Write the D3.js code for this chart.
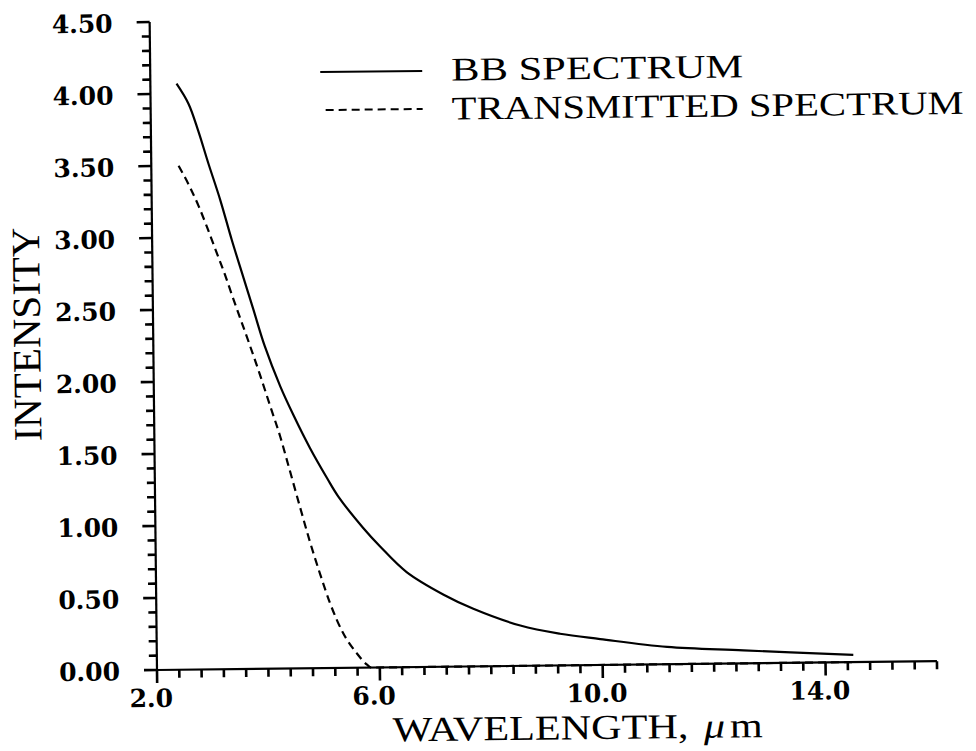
<!DOCTYPE html>
<html>
<head>
<meta charset="utf-8">
<script src="https://cdn.jsdelivr.net/npm/d3@7/dist/d3.min.js"></script>
<style>
  html, body { margin: 0; padding: 0; background: #fff; }
  svg { display: block; }
</style>
</head>
<body>
<svg id="chart" width="976" height="751"></svg>
<script>
// ---- data ----
const bbWavelength = [2.47, 2.68, 2.85, 3.02, 3.23, 3.43, 3.63, 3.80, 4.00, 4.27, 4.50, 4.79, 5.09, 5.29, 5.73, 6.03, 6.50, 7.16, 7.69, 8.53, 9.24, 9.96, 11.16, 12.53, 14.50];
const bbIntensity  = [4.07, 3.93, 3.74, 3.52, 3.26, 2.98, 2.72, 2.50, 2.24, 1.96, 1.76, 1.53, 1.32, 1.19, 0.97, 0.84, 0.66, 0.50, 0.40, 0.28, 0.22, 0.18, 0.12, 0.09, 0.05];
const trWavelength = [2.49, 2.69, 2.84, 2.98, 3.13, 3.30, 3.42, 3.73, 3.91, 4.08, 4.26, 4.40, 4.60, 4.77, 4.95, 5.12, 5.35, 5.59, 5.77, 5.85, 14.5];
const trIntensity  = [3.50, 3.35, 3.22, 3.08, 2.92, 2.74, 2.60, 2.25, 2.04, 1.83, 1.61, 1.41, 1.12, 0.88, 0.65, 0.45, 0.24, 0.10, 0.02, 0.00, 0.00];
const xMajorTicks = [2, 6, 10, 14];
const yMajorTicks = [0, 0.5, 1.0, 1.5, 2.0, 2.5, 3.0, 3.5, 4.0, 4.5];
const seriesNames = ["BB SPECTRUM", "TRANSMITTED SPECTRUM"];
const xTitle = "WAVELENGTH, ";
const yTitle = "INTENSITY";

// ---- layout ----
const x0 = 157, x1 = 937, yBottom = 670, yTop = 22;
const svg = d3.select("#chart");
const root = svg.append("g").attr("transform", `rotate(-0.65, ${x0}, ${yBottom})`);

const x = d3.scaleLinear().domain([2, 16]).range([x0, x1]);
const y = d3.scaleLinear().domain([0, 4.5]).range([yBottom, yTop]);

const xAll = d3.range(0, 36).map(i => 2 + i * 0.4);
const yAll = d3.range(0, 46).map(i => i * 0.1);
const isMajor = (v, arr) => arr.some(m => Math.abs(m - v) < 1e-6);

const tickFont = "'DejaVu Serif', serif";

// tick marks
const xTickPath = xAll.map(d => `M${x(d)},${yBottom}V${yBottom + (isMajor(d, xMajorTicks) ? 13 : 8)}`).join("");
const yTickPath = yAll.map(d => `M${x0},${y(d)}H${x0 - (isMajor(d, yMajorTicks) ? 13 : 8)}`).join("");
root.append("path").attr("d", xTickPath).attr("fill", "none").attr("stroke", "#000").attr("stroke-width", 2.6);
root.append("path").attr("d", yTickPath).attr("fill", "none").attr("stroke", "#000").attr("stroke-width", 2.6);

// axis lines
root.append("line").attr("x1", x0).attr("x2", x1).attr("y1", yBottom).attr("y2", yBottom)
  .attr("stroke", "#000").attr("stroke-width", 2.2);
root.append("line").attr("x1", x0).attr("x2", x0).attr("y1", yBottom).attr("y2", yTop)
  .attr("stroke", "#000").attr("stroke-width", 2.2);

// tick labels
root.append("g").selectAll("text").data(xMajorTicks).join("text")
  .attr("x", d => x(d) - 6).attr("y", yBottom + 37)
  .attr("text-anchor", "middle")
  .attr("font-family", tickFont).attr("font-weight", "bold").attr("font-size", 25).attr("fill", "#000")
  .text(d3.format(".1f"));
root.append("g").selectAll("text").data(yMajorTicks).join("text")
  .attr("x", x0 - 37).attr("y", d => y(d) + 10)
  .attr("text-anchor", "end")
  .attr("font-family", tickFont).attr("font-weight", "bold").attr("font-size", 25).attr("fill", "#000")
  .text(d3.format(".2f"));

// curves
const line = d3.line().x(d => x(d[0])).y(d => y(d[1])).curve(d3.curveCatmullRom.alpha(0.5));
const bb = bbWavelength.map((w, i) => [w, bbIntensity[i]]);
const tr = trWavelength.map((w, i) => [w, trIntensity[i]]);
root.append("path").datum(bb).attr("d", line)
  .attr("fill", "none").attr("stroke", "#000").attr("stroke-width", 2.2);
root.append("path").datum(tr).attr("d", d3.line().x(d => x(d[0])).y(d => y(d[1])).curve(d3.curveMonotoneX))
  .attr("fill", "none").attr("stroke", "#000").attr("stroke-width", 2.2)
  .attr("stroke-dasharray", "8,5");

// legend
const serif = "'Liberation Serif', 'Times New Roman', serif";
const legend = root.append("g");
legend.append("line").attr("x1", 327).attr("x2", 429).attr("y1", 74).attr("y2", 74)
  .attr("stroke", "#000").attr("stroke-width", 2);
legend.append("text").attr("x", 458).attr("y", 84).text(seriesNames[0])
  .attr("font-family", serif).attr("font-size", 33).attr("fill", "#000")
  .attr("textLength", 292).attr("lengthAdjust", "spacingAndGlyphs");
legend.append("line").attr("x1", 332).attr("x2", 429).attr("y1", 112).attr("y2", 112)
  .attr("stroke", "#000").attr("stroke-width", 2).attr("stroke-dasharray", "8,5");
legend.append("text").attr("x", 458).attr("y", 123).text(seriesNames[1])
  .attr("font-family", serif).attr("font-size", 33).attr("fill", "#000")
  .attr("textLength", 512).attr("lengthAdjust", "spacingAndGlyphs");

// axis titles
const xt = root.append("text").attr("x", 392).attr("y", 744)
  .attr("font-family", serif).attr("font-size", 35).attr("fill", "#000")
  .attr("textLength", 370).attr("lengthAdjust", "spacingAndGlyphs");
xt.append("tspan").text(xTitle);
xt.append("tspan").attr("font-style", "italic").attr("dx", 4).text("\u03BC");
xt.append("tspan").attr("dx", 4).text("m");

root.append("text")
  .attr("transform", `translate(44,333) rotate(-90)`)
  .attr("text-anchor", "middle")
  .attr("font-family", serif).attr("font-size", 40).attr("fill", "#000")
  .attr("textLength", 214).attr("lengthAdjust", "spacingAndGlyphs")
  .text(yTitle);
</script>
</body>
</html>
